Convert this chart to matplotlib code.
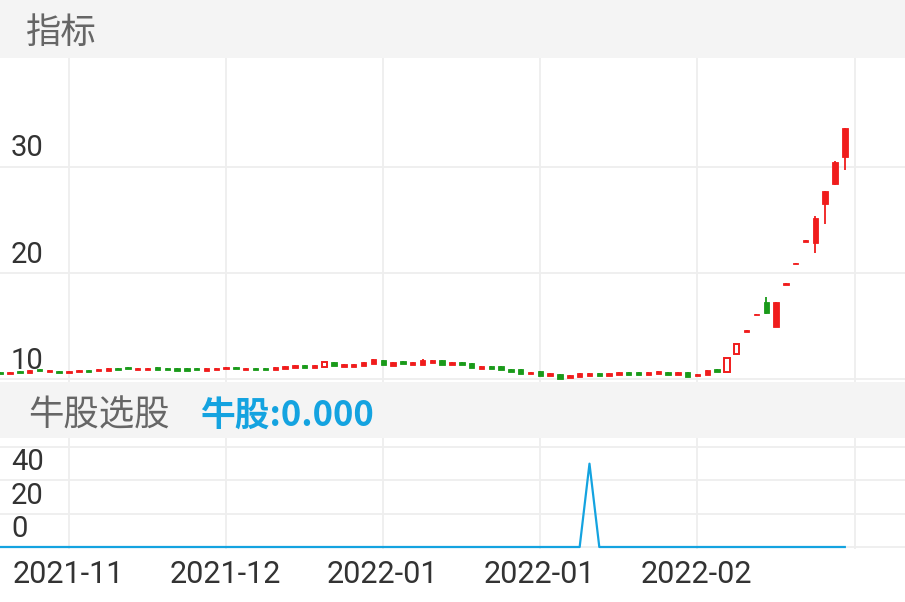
import matplotlib
matplotlib.use('Agg')
import matplotlib.pyplot as plt
from matplotlib.patches import Rectangle

plt.rcParams['font.family'] = ['Roboto', 'Noto Sans CJK SC', 'DejaVu Sans']

# ---------------- data ----------------
opens = [10.68, 10.50, 10.78, 10.59, 10.91, 10.66, 10.75, 10.57, 10.66, 10.87,
         10.73, 10.78, 11.01, 11.11, 10.85, 10.88, 11.11, 11.01, 11.02, 11.02,
         11.01, 10.80, 10.88, 10.92, 11.10, 10.88, 11.06, 11.03, 10.87, 10.93,
         11.02, 11.30, 11.08, 11.15, 11.58, 11.17, 11.18, 11.23, 11.39, 11.82,
         11.25, 11.68, 11.28, 11.30, 11.49, 11.82, 11.34, 11.62, 11.49, 10.96,
         11.27, 11.20, 10.99, 10.93, 10.43, 10.74, 10.30, 10.49, 10.11, 10.16,
         10.30, 10.56, 10.27, 10.36, 10.68, 10.62, 10.36, 10.45, 10.68, 10.42,
         10.68, 10.24, 10.35, 10.96, 10.69, 12.33, 14.47, 16.04, 17.31, 14.91,
         18.84, 20.82, 22.95, 22.86, 26.48, 28.40, 30.97]
closes = [10.50, 10.68, 10.60, 10.87, 10.73, 10.84, 10.57, 10.75, 10.84, 10.69,
          10.91, 11.06, 10.83, 10.97, 11.03, 11.06, 10.83, 10.83, 10.74, 10.74,
          10.83, 11.08, 11.06, 11.10, 10.92, 11.06, 10.88, 10.85, 11.15, 11.21,
          11.30, 11.02, 11.32, 11.63, 11.20, 11.41, 11.46, 11.61, 11.87, 11.34,
          11.63, 11.40, 11.56, 11.78, 11.77, 11.34, 11.62, 11.34, 11.01, 11.24,
          10.99, 10.82, 10.71, 10.45, 10.71, 10.26, 10.58, 10.01, 10.39, 10.54,
          10.58, 10.28, 10.55, 10.64, 10.40, 10.38, 10.64, 10.73, 10.40, 10.66,
          10.20, 10.52, 10.83, 10.68, 12.01, 13.27, 14.58, 16.16, 16.23, 17.26,
          19.03, 20.97, 23.11, 25.16, 27.74, 30.50, 33.65]
highs = [10.68, 10.68, 10.78, 10.87, 10.91, 10.84, 10.75, 10.75, 10.84, 10.87,
         10.91, 11.06, 11.01, 11.11, 11.03, 11.06, 11.11, 11.01, 11.02, 11.02,
         11.01, 11.08, 11.06, 11.10, 11.10, 11.06, 11.06, 11.03, 11.15, 11.21,
         11.30, 11.30, 11.32, 11.63, 11.58, 11.41, 11.46, 11.61, 11.87, 11.82,
         11.63, 11.68, 11.56, 11.85, 11.77, 11.82, 11.62, 11.62, 11.49, 11.24,
         11.27, 11.20, 10.99, 10.93, 10.71, 10.74, 10.58, 10.49, 10.39, 10.54,
         10.58, 10.56, 10.55, 10.64, 10.68, 10.62, 10.64, 10.73, 10.68, 10.66,
         10.68, 10.52, 10.83, 10.96, 12.03, 13.29, 14.58, 16.16, 17.78, 17.28,
         19.03, 20.97, 23.11, 25.38, 27.76, 30.52, 33.67]
lows = [10.50, 10.50, 10.60, 10.59, 10.73, 10.66, 10.57, 10.57, 10.66, 10.69,
        10.73, 10.78, 10.83, 10.97, 10.85, 10.88, 10.83, 10.83, 10.74, 10.74,
        10.83, 10.80, 10.88, 10.92, 10.92, 10.88, 10.88, 10.85, 10.87, 10.93,
        11.02, 11.02, 11.08, 11.15, 11.20, 11.17, 11.18, 11.23, 11.39, 11.34,
        11.25, 11.40, 11.28, 11.30, 11.49, 11.34, 11.34, 11.34, 11.01, 10.96,
        10.99, 10.82, 10.71, 10.45, 10.43, 10.26, 10.30, 10.01, 10.11, 10.16,
        10.30, 10.28, 10.27, 10.36, 10.40, 10.38, 10.36, 10.45, 10.40, 10.42,
        10.20, 10.24, 10.35, 10.68, 10.63, 12.24, 14.47, 16.04, 16.18, 14.89,
        18.84, 20.82, 22.95, 21.86, 24.59, 28.33, 29.72]
hollow_idx = [33, 74, 75]

indicator = [0, 0, 0, 0, 0, 0, 0, 0, 0, 0,
             0, 0, 0, 0, 0, 0, 0, 0, 0, 0,
             0, 0, 0, 0, 0, 0, 0, 0, 0, 0,
             0, 0, 0, 0, 0, 0, 0, 0, 0, 0,
             0, 0, 0, 0, 0, 0, 0, 0, 0, 0,
             0, 0, 0, 0, 0, 0, 0, 0, 0, 0,
             50, 0, 0, 0, 0, 0, 0, 0, 0, 0,
             0, 0, 0, 0, 0, 0, 0, 0, 0, 0,
             0, 0, 0, 0, 0, 0, 0]

tick_pos = [7, 23, 39, 55, 71, 87]
tick_labels = ['2021-11', '2021-12', '2022-01', '2022-01', '2022-02', '']
main_yticks = [10, 20, 30]
ind_yticks = [0, 20, 40]
title_main = '指标'
title_ind = '牛股选股'
ind_value_text = '牛股:0.000'

# ---------------- style ----------------
RED = '#f01c1c'
GREEN = '#1a9a1a'
BLUE = '#14a3e0'
GRID = '#eeeeee'
BAND = '#f4f4f4'
TXT = '#333333'
HDR = '#666666'

W, H = 905, 602
fig = plt.figure(figsize=(W / 100, H / 100), dpi=100)
fig.patch.set_facecolor('white')


def fy(py):
    return 1 - py / H


fig.add_artist(Rectangle((0, fy(58)), 1, 58 / H, transform=fig.transFigure,
                         facecolor=BAND, edgecolor='none', zorder=0))
fig.add_artist(Rectangle((0, fy(438)), 1, (438 - 382) / H, transform=fig.transFigure,
                         facecolor=BAND, edgecolor='none', zorder=0))

ax = fig.add_axes([0, fy(382), 1, (382 - 58) / H])
ax2 = fig.add_axes([0, fy(549), 1, (549 - 438) / H])

xl = (-0.027, 92.13)
n = len(opens)
xs = list(range(n))

# ---- main candles ----
face, edge, bottoms, heights, lws = [], [], [], [], []
for i in xs:
    up = closes[i] >= opens[i]
    c = RED if up else GREEN
    edge.append(c)
    face.append('white' if i in hollow_idx else c)
    lws.append(1.4 if i in hollow_idx else 0.6)
    bottoms.append(min(opens[i], closes[i]))
    heights.append(abs(closes[i] - opens[i]))
wick_colors = [RED if closes[i] >= opens[i] else GREEN for i in xs]
ax.vlines(xs, lows, highs, colors=wick_colors, linewidth=1.3, zorder=2)
ax.bar(xs, heights, bottom=bottoms, width=0.55, color=face, edgecolor=edge,
       linewidth=lws, zorder=3)

ax.set_xlim(*xl)
ax.set_ylim(9.72, 40.28)
ax.set_xticks(tick_pos)
ax.set_yticks(main_yticks)
ax.grid(True, color=GRID, linewidth=1.3)
ax.set_axisbelow(True)
ax.tick_params(length=0, labelleft=False, labelbottom=False)
for s in ax.spines.values():
    s.set_visible(False)
for v in main_yticks:
    ax.annotate(str(v), xy=(0, v), xycoords=('axes fraction', 'data'),
                xytext=(11, 10.5), textcoords='offset pixels', ha='left',
                va='baseline', fontsize=21, color=TXT, zorder=5)

# ---- indicator ----
ax2.plot(xs, indicator, color=BLUE, linewidth=1.6, zorder=3)
ax2.set_xlim(*xl)
ax2.set_ylim(-1.2, 65.4)
ax2.set_xticks(tick_pos)
ax2.set_xticklabels([])
ax2.set_yticks([0, 20, 40, 60])
ax2.grid(True, color=GRID, linewidth=1.3)
ax2.set_axisbelow(True)
ax2.tick_params(length=0, labelleft=False, labelbottom=False)
for s in ax2.spines.values():
    s.set_visible(False)
for v in ind_yticks:
    ax2.annotate(str(v), xy=(0, v), xycoords=('axes fraction', 'data'),
                 xytext=(11, 10), textcoords='offset pixels', ha='left',
                 va='baseline', fontsize=21, color=TXT, zorder=5)
for p, lab in zip(tick_pos, tick_labels):
    ax2.annotate(lab, xy=(p, 0), xycoords=('data', 'axes fraction'),
                 xytext=(-1, -34), textcoords='offset pixels', ha='center',
                 va='baseline', fontsize=22, color=TXT, annotation_clip=False)

# ---- headers ----
fig.text(26 / W, fy(33), title_main, fontsize=25.5, color=HDR, va='center',
         ha='left', family=['Noto Sans CJK SC', 'DejaVu Sans'])
fig.text(28 / W, fy(415), title_ind, fontsize=25.5, color=HDR, va='center',
         ha='left', family=['Noto Sans CJK SC', 'DejaVu Sans'])
fig.text(200 / W, fy(415), ind_value_text, fontsize=25, color=BLUE, va='center',
         ha='left', fontweight='bold', family=['Noto Sans CJK SC', 'DejaVu Sans'])

fig.savefig('out.png', dpi=100, facecolor='white')
